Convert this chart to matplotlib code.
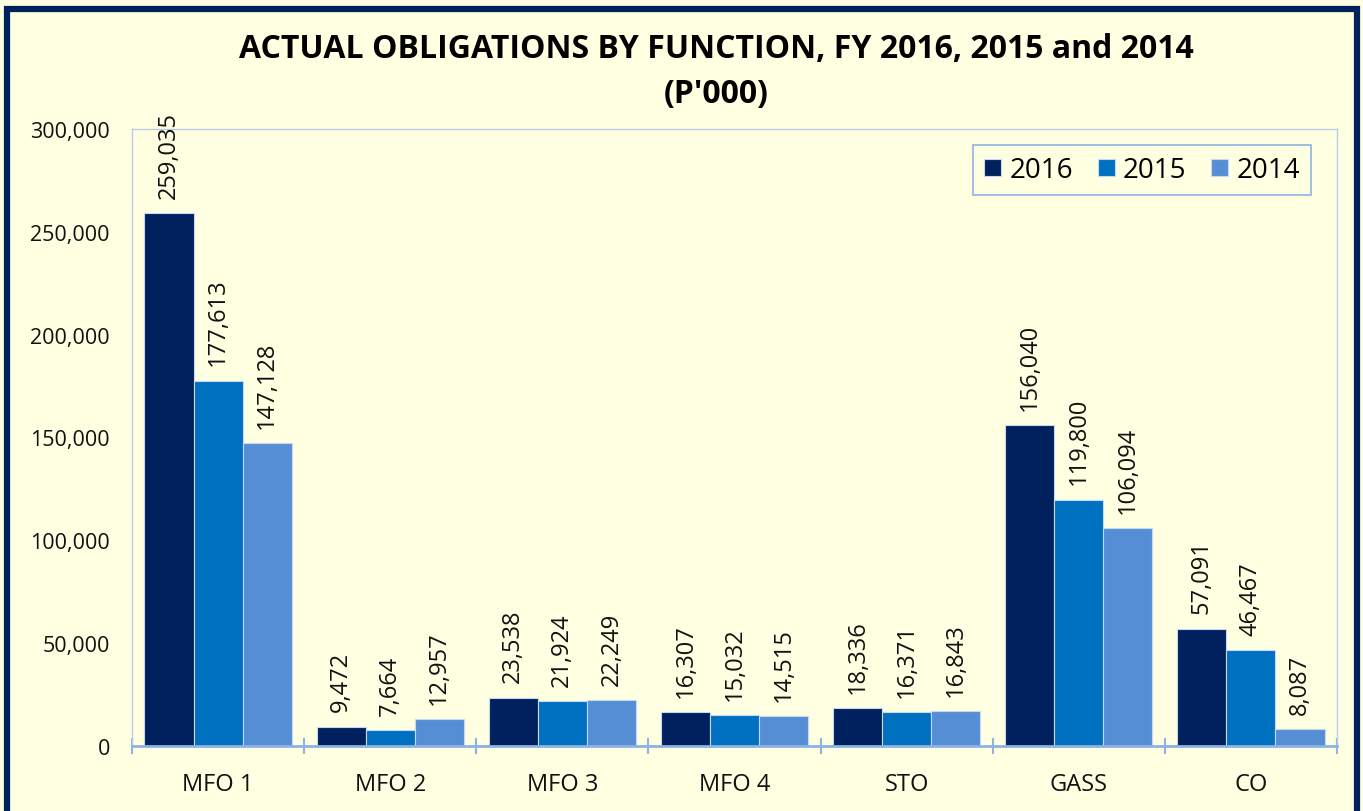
import matplotlib
matplotlib.use("Agg")
import matplotlib.pyplot as plt
import numpy as np
from matplotlib.patches import Rectangle
from matplotlib.ticker import FuncFormatter, FixedLocator

plt.rcParams["font.family"] = ["Open Sans", "DejaVu Sans"]

categories = ["MFO 1", "MFO 2", "MFO 3", "MFO 4", "STO", "GASS", "CO"]
years = ["2016", "2015", "2014"]
vals_2016 = [259035, 9472, 23538, 16307, 18336, 156040, 57091]
vals_2015 = [177613, 7664, 21924, 15032, 16371, 119800, 46467]
vals_2014 = [147128, 12957, 22249, 14515, 16843, 106094, 8087]
colors = ["#00215E", "#0070C0", "#558ED5"]

BG = "#FFFFE1"
AXBLUE = "#8DB3E2"

fig = plt.figure(figsize=(13.63, 8.12), dpi=100, facecolor=BG)
ax = fig.add_axes([132 / 1363, 1 - 747 / 812, (1337 - 132) / 1363, (747 - 130) / 812])
ax.set_facecolor(BG)

# dark frame round the whole chart (runs off the bottom edge)
fig.patches.append(Rectangle((7 / 1363, -0.05), (1357 - 7) / 1363, 1.05 - 10 / 812,
                             transform=fig.transFigure, fill=False,
                             edgecolor="#00215E", linewidth=4.5, zorder=0))

x = np.arange(len(categories))
w = 0.285
for i, (vals, c, lab) in enumerate(zip([vals_2016, vals_2015, vals_2014], colors, years)):
    bars = ax.bar(x + (i - 1) * w, vals, width=w, color=c, edgecolor="#C6D9F1",
                  linewidth=0.8, label=lab, zorder=2)
    for b, v in zip(bars, vals):
        ax.annotate(f"{v:,}", (b.get_x() + b.get_width() / 2, v), xytext=(0, 11),
                    textcoords="offset points", rotation=90, ha="center", va="bottom",
                    fontsize=17, color="#111111")

ax.set_xlim(-0.5, len(categories) - 0.5)
ax.set_ylim(0, 300000)
ax.yaxis.set_major_locator(FixedLocator(range(0, 300001, 50000)))
ax.yaxis.set_major_formatter(FuncFormatter(lambda v, p: f"{int(v):,}"))
ax.tick_params(axis="y", length=0, pad=16, labelsize=15.5, labelcolor="#111111")

ax.set_xticks(x)
ax.set_xticklabels(categories)
ax.set_xticks(np.arange(-0.5, len(categories)), minor=True)
ax.tick_params(axis="x", which="major", length=0, pad=19, labelsize=17, labelcolor="#111111")
ax.tick_params(axis="x", which="minor", direction="inout", length=11, width=1.5, color=AXBLUE)

for s in ["top", "left", "right"]:
    ax.spines[s].set_color("#B9CDE5")
    ax.spines[s].set_linewidth(1.0)
ax.spines["bottom"].set_color(AXBLUE)
ax.spines["bottom"].set_linewidth(2)

leg = ax.legend(loc="upper right", bbox_to_anchor=(0.9784, 0.974), borderaxespad=0,
                ncol=3, fontsize=20, frameon=True, fancybox=False,
                handlelength=0.6, handleheight=0.6, handletextpad=0.3,
                columnspacing=0.9, borderpad=0.4)
leg.get_frame().set_edgecolor(AXBLUE)
leg.get_frame().set_facecolor(BG)
leg.get_frame().set_linewidth(1.2)
leg.get_frame().set_alpha(1)

fig.text(716 / 1363, 1 - 50 / 812, "ACTUAL OBLIGATIONS BY FUNCTION, FY 2016, 2015 and 2014",
         ha="center", va="center", fontsize=23, fontweight="bold")
fig.text(716 / 1363, 1 - 95 / 812, "(P'000)", ha="center", va="center",
         fontsize=23, fontweight="bold")

fig.savefig("out.png", dpi=100, facecolor=BG)
